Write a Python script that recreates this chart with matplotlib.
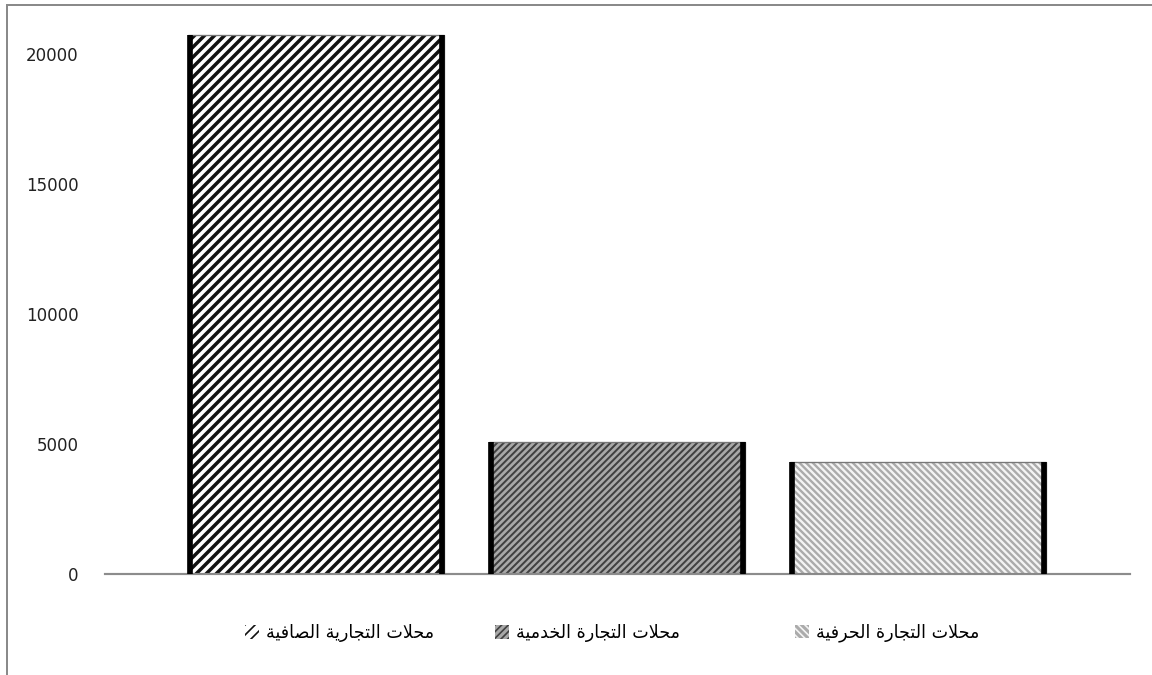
import matplotlib
matplotlib.use("Agg")
import matplotlib.pyplot as plt
from matplotlib.lines import Line2D

# data
categories = ["محلات التجارية الصافية", "محلات التجارة الخدمية", "محلات التجارة الحرفية"]
values = [20730, 5060, 4290]
yticks = [0, 5000, 10000, 15000, 20000]

faces = ["#ffffff", "#a8a8a8", "#ababab"]
hatch_colors = ["#111111", "#404040", "#f4f4f4"]
hatches = ["////", "//////", "\\\\\\\\\\\\"]
hatch_widths = [2.1, 1.2, 1.4]

# presentation forms: isolated, final, initial, medial
FORMS = {
    "ا": ("\uFE8D", "\uFE8E", None, None),
    "ة": ("\uFE93", "\uFE94", None, None),
    "ت": ("\uFE95", "\uFE96", "\uFE97", "\uFE98"),
    "ج": ("\uFE9D", "\uFE9E", "\uFE9F", "\uFEA0"),
    "ح": ("\uFEA1", "\uFEA2", "\uFEA3", "\uFEA4"),
    "خ": ("\uFEA5", "\uFEA6", "\uFEA7", "\uFEA8"),
    "د": ("\uFEA9", "\uFEAA", None, None),
    "ر": ("\uFEAD", "\uFEAE", None, None),
    "ص": ("\uFEB9", "\uFEBA", "\uFEBB", "\uFEBC"),
    "ف": ("\uFED1", "\uFED2", "\uFED3", "\uFED4"),
    "ل": ("\uFEDD", "\uFEDE", "\uFEDF", "\uFEE0"),
    "م": ("\uFEE1", "\uFEE2", "\uFEE3", "\uFEE4"),
    "ي": ("\uFEF1", "\uFEF2", "\uFEF3", "\uFEF4"),
}


def shape(text):
    """join arabic letters and reverse to visual order"""
    units = []
    i = 0
    while i < len(text):
        if text[i] == "ل" and i + 1 < len(text) and text[i + 1] == "ا":
            units.append("لا")
            i += 2
        else:
            units.append(text[i])
            i += 1

    def joins_next(u):
        return u in FORMS and FORMS[u][2] is not None

    def is_letter(u):
        return u == "لا" or u in FORMS

    out = []
    for k, u in enumerate(units):
        a = k > 0 and joins_next(units[k - 1])
        b = joins_next(u) and k + 1 < len(units) and is_letter(units[k + 1])
        if u == "لا":
            out.append("\uFEFC" if a else "\uFEFB")
            continue
        f = FORMS.get(u)
        if f is None:
            out.append(u)
        elif a and b:
            out.append(f[3])
        elif a:
            out.append(f[1])
        elif b:
            out.append(f[2])
        else:
            out.append(f[0])
    return "".join(reversed(out))


plt.rcParams["font.family"] = ["DejaVu Sans"]
fig = plt.figure(figsize=(9.6, 5.625), dpi=120)
ax = fig.add_axes([105 / 1152, 1 - 574 / 675, 1025 / 1152, 559 / 675])

x = list(range(len(values)))
width = 0.85
bars = []
for i in x:
    with plt.rc_context({"hatch.linewidth": hatch_widths[i]}):
        b = ax.bar(i, values[i], width, color=faces[i], edgecolor=hatch_colors[i],
                   hatch=hatches[i], linewidth=0, label=shape(categories[i]), zorder=2)
    if hasattr(b[0], "set_hatch_linewidth"):
        b[0].set_hatch_linewidth(hatch_widths[i])
    bars.append(b)
    # outline: thin top, thick dark sides
    ax.bar(i, values[i], width, fill=False, edgecolor="#777777", linewidth=0.8, zorder=3)
    ax.vlines([i - width / 2 + 0.007, i + width / 2 - 0.007], 0, values[i],
              colors="black", linewidth=3.4, zorder=4)

ax.set_xlim(-0.701, 2.704)
ax.set_ylim(0, 21500)
ax.set_yticks(yticks)
ax.set_yticklabels([str(v) for v in yticks], fontsize=10, color="#222222")
ax.set_xticks([])
ax.tick_params(axis="y", length=0, pad=16)
for s in ["top", "right", "left"]:
    ax.spines[s].set_visible(False)
ax.spines["bottom"].set_color("#8c8c8c")
ax.spines["bottom"].set_linewidth(1.3)
ax.set_facecolor("none")

# legend entries placed one by one, as in the reference
legend_x = [243 / 1152, 493 / 1152, 793 / 1152]
for i in x:
    leg = fig.legend(handles=[bars[i][0]], labels=[shape(categories[i])],
                     loc="center left", bbox_to_anchor=(legend_x[i] - 0.004, 1 - 633 / 675),
                     frameon=False, fontsize=10.5, handlelength=0.8, handleheight=0.8,
                     handletextpad=0.4, borderaxespad=0)

# chart frame (left and top only visible)
fig.add_artist(Line2D([7 / 1152, 7 / 1152], [0, 1 - 5 / 675], color="#8a8a8a", linewidth=1.2))
fig.add_artist(Line2D([7 / 1152, 1], [1 - 5 / 675, 1 - 5 / 675], color="#8a8a8a", linewidth=1.2))

fig.savefig("out.png", dpi=120)
